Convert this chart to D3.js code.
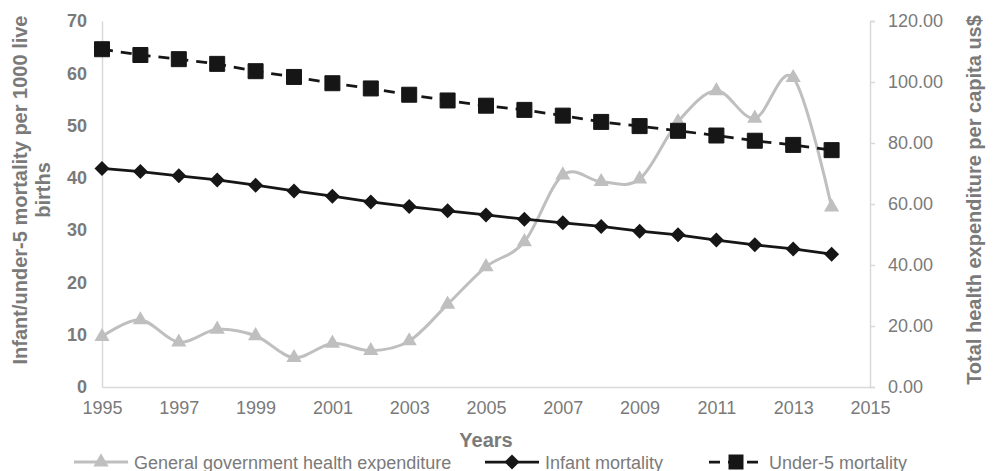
<!DOCTYPE html>
<html>
<head>
<meta charset="utf-8">
<script src="https://cdn.jsdelivr.net/npm/d3@7"></script>
<style>
  html, body { margin: 0; padding: 0; background: #fff; }
  svg { display: block; font-family: "Liberation Sans", Arial, sans-serif; }
</style>
</head>
<body>
<div id="chart"></div>
<script>
const YEARS = d3.range(1995, 2015);
const X_TICKS = [1995, 1997, 1999, 2001, 2003, 2005, 2007, 2009, 2011, 2013, 2015];
const LEFT_TICKS = [0, 10, 20, 30, 40, 50, 60, 70];
const RIGHT_TICKS = [0, 20, 40, 60, 80, 100, 120];

// General government health expenditure (right axis, us$ per capita)
const EXPENDITURE = [16.5, 22.0, 14.7, 18.9, 16.8, 9.6, 14.3, 11.9, 15.1, 27.1,
                     39.4, 47.6, 69.5, 67.3, 68.2, 87.0, 97.1, 88.1, 101.4, 59.0];
// Infant mortality (left axis, per 1000 live births)
const INFANT = [41.8, 41.2, 40.4, 39.6, 38.6, 37.5, 36.5, 35.4, 34.5, 33.7,
                32.9, 32.1, 31.4, 30.7, 29.8, 29.1, 28.1, 27.2, 26.4, 25.4];
// Under-5 mortality (left axis)
const UNDER5 = [64.6, 63.5, 62.7, 61.8, 60.4, 59.3, 58.1, 57.1, 55.9, 54.8,
                53.8, 53.0, 51.9, 50.7, 49.9, 49.0, 48.1, 47.1, 46.3, 45.3];

const W = 995, H = 471;
const margin = { top: 21, right: 125, bottom: 84, left: 102 };
const w = W - margin.left - margin.right;
const h = H - margin.top - margin.bottom;

const GREY = "#bfbfbf", BLACK = "#161616", AXIS = "#d9d9d9", TXT = "#7a7a7a";

const svg = d3.select("#chart").append("svg")
  .attr("width", W).attr("height", H);

const g = svg.append("g").attr("transform", `translate(${margin.left},${margin.top})`);

const x = d3.scaleLinear().domain([1995, 2015]).range([0, w]);
const yL = d3.scaleLinear().domain([0, 70]).range([h, 0]);
const yR = d3.scaleLinear().domain([0, 120]).range([h, 0]);

/* Axes */
const xAxis = g.append("g").attr("transform", `translate(0,${h})`)
  .call(d3.axisBottom(x).tickValues(X_TICKS).tickFormat(d3.format("d")).tickSize(0).tickPadding(14));
const leftAxis = g.append("g")
  .call(d3.axisLeft(yL).tickValues(LEFT_TICKS).tickSize(0).tickPadding(15));
const rightAxis = g.append("g").attr("transform", `translate(${w},0)`)
  .call(d3.axisRight(yR).tickValues(RIGHT_TICKS).tickFormat(d3.format(".2f")).tickSize(5).tickPadding(13).tickSizeOuter(5));

[xAxis, leftAxis, rightAxis].forEach(a => {
  a.select(".domain").attr("stroke", AXIS).attr("stroke-width", 1.5);
  a.selectAll(".tick line").attr("stroke", AXIS).attr("stroke-width", 1.5);
  a.selectAll("text").attr("fill", TXT).style("font-size", "18px");
});
leftAxis.selectAll("text").style("font-weight", "bold");

/* Axis titles */
svg.append("text").attr("transform", "translate(27,190) rotate(-90)")
  .attr("text-anchor", "middle").attr("fill", TXT)
  .style("font-size", "20px").style("font-weight", "bold")
  .text("Infant/under-5 mortality per 1000 live");
svg.append("text").attr("transform", "translate(50,190) rotate(-90)")
  .attr("text-anchor", "middle").attr("fill", TXT)
  .style("font-size", "20px").style("font-weight", "bold")
  .text("births");
svg.append("text").attr("transform", "translate(981,200) rotate(-90)")
  .attr("text-anchor", "middle").attr("fill", TXT)
  .style("font-size", "20px").style("font-weight", "bold")
  .text("Total health expenditure per capita us$");
svg.append("text").attr("x", margin.left + w / 2).attr("y", 447)
  .attr("text-anchor", "middle").attr("fill", TXT)
  .style("font-size", "20px").style("font-weight", "bold")
  .text("Years");

/* Marker shapes */
const tri = d3.symbol().type(d3.symbolTriangle).size(100)();
const sq = "M-7.5,-7.5h15v15h-15z";
const dia = "M0,-7.5L7.5,0L0,7.5L-7.5,0Z";

/* Series */
const expData = YEARS.map((yr, i) => ({ yr, v: EXPENDITURE[i] }));
const infData = YEARS.map((yr, i) => ({ yr, v: INFANT[i] }));
const u5Data = YEARS.map((yr, i) => ({ yr, v: UNDER5[i] }));

g.append("path").datum(expData)
  .attr("fill", "none").attr("stroke", GREY).attr("stroke-width", 3)
  .attr("d", d3.line().x(d => x(d.yr)).y(d => yR(d.v)).curve(d3.curveCatmullRom.alpha(0)));
g.selectAll(".m-exp").data(expData).enter().append("path")
  .attr("class", "m-exp").attr("d", tri).attr("fill", GREY)
  .attr("transform", d => `translate(${x(d.yr)},${yR(d.v)})`);

g.append("path").datum(infData)
  .attr("fill", "none").attr("stroke", BLACK).attr("stroke-width", 2.75)
  .attr("d", d3.line().x(d => x(d.yr)).y(d => yL(d.v)));
g.selectAll(".m-inf").data(infData).enter().append("path")
  .attr("class", "m-inf").attr("d", dia).attr("fill", BLACK)
  .attr("transform", d => `translate(${x(d.yr)},${yL(d.v)})`);

g.append("path").datum(u5Data)
  .attr("fill", "none").attr("stroke", BLACK).attr("stroke-width", 2.75)
  .attr("stroke-dasharray", "11,8")
  .attr("d", d3.line().x(d => x(d.yr)).y(d => yL(d.v)));
g.selectAll(".m-u5").data(u5Data).enter().append("path")
  .attr("class", "m-u5").attr("d", sq).attr("fill", BLACK)
  .attr("stroke", BLACK).attr("stroke-width", 1).attr("stroke-linejoin", "round")
  .attr("transform", d => `translate(${x(d.yr)},${yL(d.v)})`);

/* Legend */
const LEGEND = [
  { label: "General government health expenditure", x0: 74, color: GREY, mark: tri, dash: null, sw: 3 },
  { label: "Infant mortality", x0: 485, color: BLACK, mark: dia, dash: null, sw: 2.75 },
  { label: "Under-5 mortality", x0: 709, color: BLACK, mark: sq, dash: "11,8", sw: 2.75 },
];
const ly = 462;
LEGEND.forEach(it => {
  const row = svg.append("g").attr("transform", `translate(${it.x0},${ly})`);
  row.append("line").attr("x1", 0).attr("x2", 54).attr("y1", 0).attr("y2", 0)
    .attr("stroke", it.color).attr("stroke-width", it.sw)
    .attr("stroke-dasharray", it.dash);
  row.append("path").attr("d", it.mark).attr("fill", it.color)
    .attr("transform", "translate(27,0)");
  row.append("text").attr("x", 60).attr("y", 6.5).attr("fill", TXT)
    .style("font-size", "18px").text(it.label);
});
</script>
</body>
</html>
